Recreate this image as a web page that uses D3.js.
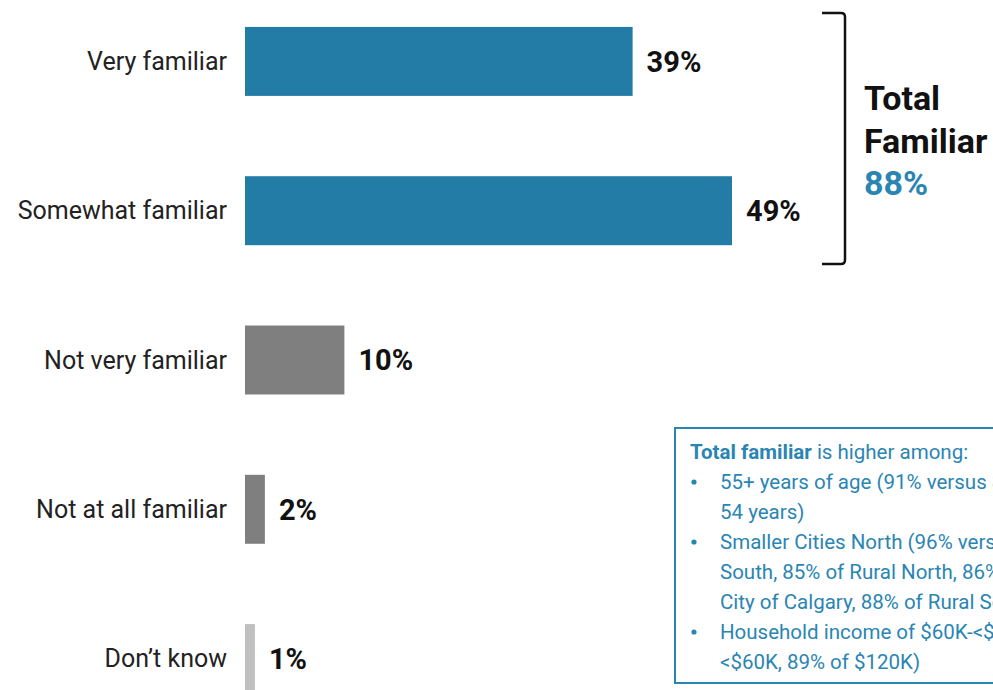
<!DOCTYPE html>
<html>
<head>
<meta charset="utf-8">
<script src="https://cdn.jsdelivr.net/npm/d3@7"></script>
<style>
  html, body { margin: 0; padding: 0; background: #fff; overflow: hidden; }
  svg { display: block; font-family: Roboto, "Noto Sans", sans-serif; }
</style>
</head>
<body>
<svg id="chart" width="993" height="690"></svg>
<script>
// Familiarity responses (percent of respondents)
const categories = ["Very familiar", "Somewhat familiar", "Not very familiar", "Not at all familiar", "Don\u2019t know"];
const values = [39, 49, 10, 2, 1];
const barColors = ["#227ca6", "#227ca6", "#7f7f7f", "#7f7f7f", "#c0c0c0"];
const totalFamiliar = 88;
const noteTitle = "Total familiar";
const noteLead = " is higher among:";
const noteLines = [
  { bullet: true,  text: "55+ years of age (91% versus 86% of 18 to" },
  { bullet: false, text: "54 years)" },
  { bullet: true,  text: "Smaller Cities North (96% versus 85% of Rural" },
  { bullet: false, text: "South, 85% of Rural North, 86% of City of Edmonton," },
  { bullet: false, text: "City of Calgary, 88% of Rural South)" },
  { bullet: true,  text: "Household income of $60K-<$120K (92% versus 84% of" },
  { bullet: false, text: "<$60K, 89% of $120K)" }
];

const svg = d3.select("#chart");
const blue = "#2a85b3";

const x = d3.scaleLinear().domain([0, 49]).range([245, 732]);
const y = d3.scaleBand().domain(categories).range([12, 708]).paddingInner(0.538).paddingOuter(0.1);

// Bars
svg.append("g").selectAll("rect")
  .data(values)
  .join("rect")
  .attr("x", x(0))
  .attr("y", (d, i) => y(categories[i]))
  .attr("width", d => x(d) - x(0))
  .attr("height", y.bandwidth())
  .attr("fill", (d, i) => barColors[i]);

// Category labels
svg.append("g").selectAll("text")
  .data(categories)
  .join("text")
  .attr("x", 227)
  .attr("y", d => y(d) + y.bandwidth() / 2)
  .attr("dy", "0.35em")
  .attr("text-anchor", "end")
  .attr("font-size", 25)
  .attr("fill", "#222")
  .text(d => d);

// Value labels
svg.append("g").selectAll("text")
  .data(values)
  .join("text")
  .attr("x", d => x(d) + 14)
  .attr("y", (d, i) => y(categories[i]) + y.bandwidth() / 2)
  .attr("dy", "0.36em")
  .attr("font-size", 29)
  .attr("font-weight", 700)
  .attr("fill", "#111")
  .text(d => d + "%");

// Bracket grouping the two familiar rows
const bTop = 13, bBot = 264, bx = 845, bl = 822, r = 4;
svg.append("path")
  .attr("d", `M${bl},${bTop} H${bx - r} Q${bx},${bTop} ${bx},${bTop + r} V${bBot - r} Q${bx},${bBot} ${bx - r},${bBot} H${bl}`)
  .attr("fill", "none")
  .attr("stroke", "#111")
  .attr("stroke-width", 2.5);

const tot = svg.append("g").attr("font-size", 34).attr("font-weight", 700);
tot.append("text").attr("x", 864).attr("y", 110).attr("fill", "#111").text("Total");
tot.append("text").attr("x", 864).attr("y", 153).attr("fill", "#111").text("Familiar");
tot.append("text").attr("x", 864).attr("y", 195).attr("fill", blue).text(totalFamiliar + "%");

// Note box
svg.append("rect")
  .attr("x", 675).attr("y", 428)
  .attr("width", 340).attr("height", 255)
  .attr("fill", "none")
  .attr("stroke", blue)
  .attr("stroke-width", 2);

const note = svg.append("g").attr("font-size", 20.5).attr("fill", blue);
const head = note.append("text").attr("x", 690).attr("y", 459);
head.append("tspan").attr("font-weight", 700).text(noteTitle);
head.append("tspan").text(noteLead);

note.selectAll("text.line")
  .data(noteLines)
  .join("text")
  .attr("class", "line")
  .attr("x", 720)
  .attr("y", (d, i) => 489 + i * 30)
  .text(d => d.text);

note.selectAll("circle")
  .data(noteLines.filter(d => d.bullet))
  .join("circle")
  .attr("cx", 694)
  .attr("cy", d => 489 + noteLines.indexOf(d) * 30 - 7)
  .attr("r", 2.6)
  .attr("fill", blue);
</script>
</body>
</html>
